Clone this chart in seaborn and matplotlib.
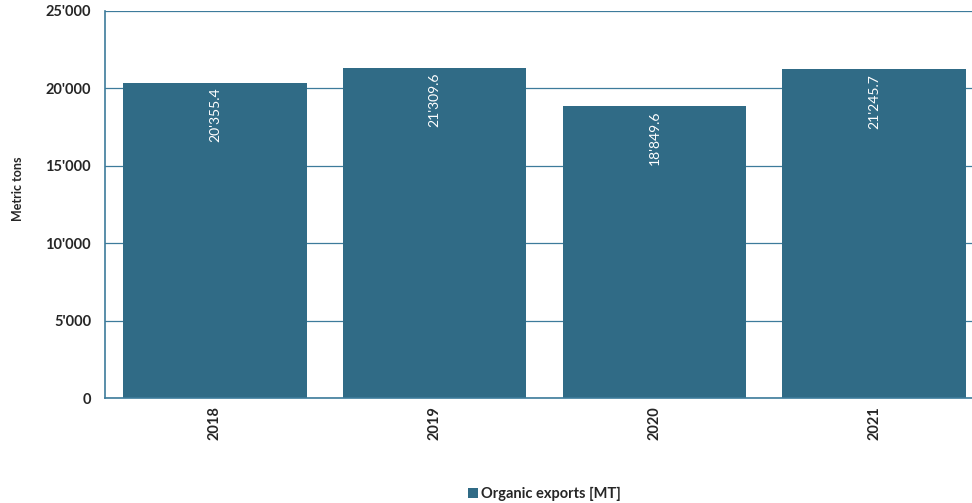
import pandas as pd
import seaborn as sns
import matplotlib.pyplot as plt
from matplotlib.ticker import FuncFormatter

# Chart data
years = ["2018", "2019", "2020", "2021"]
exports = [20355.4, 21309.6, 18849.6, 21245.7]
series_name = "Organic exports [MT]"

bar_color = "#306b86"
line_color = "#3d7b9b"

sns.set_style("white")
plt.rcParams['font.family'] = ['Lato', 'DejaVu Sans']

df = pd.DataFrame({"year": years, "value": exports, "series": series_name})

fig = plt.figure(figsize=(9.72, 5.03), dpi=100)
ax = fig.add_axes([105 / 972, 1 - 398 / 503, 879 / 972, 387 / 503])

sns.barplot(data=df, x="year", y="value", hue="series", palette=[bar_color],
            width=0.835, saturation=1, ax=ax, zorder=2, linewidth=0, edgecolor="none")

ax.set_ylim(0, 25000)
ax.set_yticks(range(0, 25001, 5000))
ax.yaxis.set_major_formatter(FuncFormatter(lambda v, p: f"{int(v):,}".replace(",", "'")))
ax.grid(axis="y", color=line_color, linewidth=0.9, zorder=0)
ax.set_axisbelow(True)

for side in ["top", "right"]:
    ax.spines[side].set_visible(False)
for side in ["left", "bottom"]:
    ax.spines[side].set_color(line_color)
    ax.spines[side].set_linewidth(1.2)

ax.tick_params(axis="y", length=8, width=1, color=line_color, labelsize=10.5, pad=2)
ax.tick_params(axis="x", length=0, labelsize=10.5, pad=6, labelrotation=90)
ax.set_xticks([1.5, 2.5], minor=True)
ax.tick_params(axis="x", which="minor", length=4, width=1, color=line_color)

for lbl in ax.get_yticklabels() + ax.get_xticklabels():
    lbl.set_fontweight("bold")

ax.set_xlabel("")
ax.set_ylabel("Metric tons", fontsize=9, fontweight="bold")
ax.yaxis.set_label_coords(-0.092, 0.54)

# value labels inside the bars
for i, v in enumerate(exports):
    ax.text(i, v - 300, f"{v:,.1f}".replace(",", "'"), rotation=90, color="white",
            ha="center", va="top", fontsize=10)

ax.legend(loc="upper center", bbox_to_anchor=(0.5, -0.195), frameon=False,
          handlelength=0.7, handleheight=0.7, handletextpad=0.2,
          prop={"weight": "bold", "size": 10.5})

fig.savefig("out.png", dpi=100)
